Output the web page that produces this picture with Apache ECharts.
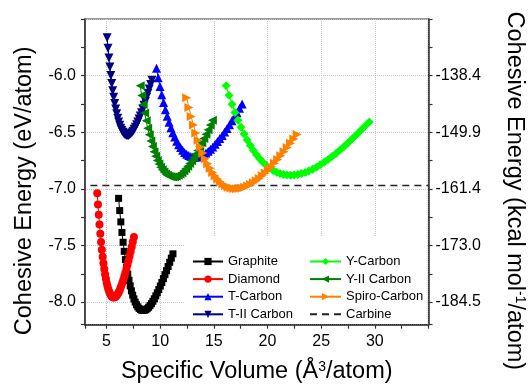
<!DOCTYPE html>
<html><head><meta charset="utf-8">
<script src="https://cdn.jsdelivr.net/npm/echarts@6/dist/echarts.min.js"></script>
<style>html,body{margin:0;padding:0;background:#fff}#c{width:528px;height:385px}</style>
</head><body><div id="c"></div>
<script>
const graphiteV=[6.131,6.234,6.338,6.443,6.549,6.656,6.765,6.874,6.985,7.097,7.211,7.325,7.441,7.558,7.676,7.795,7.915,8.037,8.160,8.284,8.410,8.537,8.665,8.794,8.925,9.057,9.190,9.324,9.460,9.597,9.736,9.875,10.016,10.159,10.303,10.448,10.594,10.742,10.891,11.042,11.194];
const graphiteE=[-7.084,-7.192,-7.292,-7.385,-7.472,-7.552,-7.625,-7.692,-7.753,-7.808,-7.857,-7.901,-7.939,-7.972,-8.000,-8.024,-8.042,-8.056,-8.066,-8.072,-8.074,-8.072,-8.067,-8.058,-8.046,-8.031,-8.014,-7.993,-7.971,-7.945,-7.918,-7.889,-7.859,-7.827,-7.793,-7.758,-7.723,-7.686,-7.649,-7.612,-7.574];
const diamondV=[4.141,4.210,4.280,4.351,4.423,4.495,4.569,4.643,4.718,4.793,4.870,4.947,5.025,5.104,5.184,5.265,5.346,5.428,5.511,5.595,5.680,5.766,5.852,5.939,6.028,6.117,6.207,6.298,6.389,6.482,6.575,6.670,6.765,6.861,6.958,7.056,7.155,7.255,7.356,7.457,7.560];
const diamondE=[-7.040,-7.138,-7.230,-7.316,-7.396,-7.470,-7.538,-7.600,-7.657,-7.708,-7.754,-7.795,-7.831,-7.863,-7.889,-7.912,-7.929,-7.943,-7.953,-7.958,-7.960,-7.958,-7.953,-7.944,-7.932,-7.918,-7.900,-7.879,-7.856,-7.830,-7.802,-7.772,-7.740,-7.706,-7.670,-7.632,-7.593,-7.553,-7.511,-7.468,-7.425];
const tCarbonV=[9.659,9.821,9.985,10.150,10.318,10.487,10.658,10.831,11.005,11.182,11.360,11.541,11.723,11.907,12.093,12.281,12.471,12.663,12.856,13.052,13.250,13.450,13.651,13.855,14.061,14.269,14.479,14.691,14.904,15.120,15.339,15.559,15.781,16.005,16.232,16.460,16.691,16.924,17.159,17.396,17.636];
const tCarbonE=[-5.935,-6.019,-6.097,-6.170,-6.238,-6.301,-6.359,-6.412,-6.460,-6.504,-6.543,-6.579,-6.610,-6.636,-6.659,-6.678,-6.694,-6.705,-6.714,-6.718,-6.720,-6.718,-6.714,-6.706,-6.696,-6.683,-6.668,-6.650,-6.630,-6.607,-6.583,-6.556,-6.528,-6.498,-6.467,-6.434,-6.399,-6.363,-6.327,-6.289,-6.250];
const tIIV=[5.059,5.144,5.230,5.316,5.404,5.493,5.582,5.673,5.764,5.857,5.950,6.045,6.140,6.237,6.334,6.432,6.532,6.632,6.734,6.836,6.940,7.045,7.150,7.257,7.365,7.474,7.584,7.695,7.807,7.920,8.034,8.149,8.266,8.383,8.502,8.622,8.742,8.864,8.988,9.112,9.237];
const tIIE=[-5.665,-5.758,-5.845,-5.925,-6.000,-6.070,-6.134,-6.192,-6.246,-6.294,-6.337,-6.376,-6.410,-6.439,-6.464,-6.485,-6.501,-6.514,-6.523,-6.528,-6.530,-6.528,-6.523,-6.515,-6.504,-6.491,-6.474,-6.455,-6.434,-6.410,-6.384,-6.356,-6.327,-6.295,-6.262,-6.228,-6.192,-6.156,-6.118,-6.079,-6.040];
const yCarbonV=[16.147,16.418,16.692,16.968,17.248,17.531,17.817,18.105,18.397,18.693,18.991,19.292,19.597,19.905,20.216,20.530,20.847,21.168,21.492,21.819,22.150,22.484,22.821,23.162,23.506,23.853,24.204,24.558,24.916,25.277,25.641,26.009,26.381,26.756,27.135,27.517,27.903,28.292,28.685,29.081,29.482];
const yCarbonE=[-6.089,-6.173,-6.252,-6.326,-6.394,-6.457,-6.515,-6.569,-6.618,-6.662,-6.702,-6.737,-6.768,-6.795,-6.818,-6.837,-6.853,-6.864,-6.873,-6.877,-6.879,-6.877,-6.873,-6.865,-6.855,-6.842,-6.827,-6.809,-6.788,-6.766,-6.742,-6.715,-6.687,-6.657,-6.625,-6.592,-6.558,-6.522,-6.485,-6.448,-6.409];
const yIIV=[8.143,8.279,8.417,8.557,8.698,8.841,8.985,9.130,9.278,9.426,9.577,9.729,9.883,10.038,10.195,10.353,10.513,10.675,10.838,11.003,11.170,11.338,11.508,11.680,11.854,12.029,12.206,12.384,12.565,12.747,12.931,13.116,13.304,13.493,13.684,13.876,14.071,14.267,14.465,14.665,14.867];
const yIIE=[-6.090,-6.175,-6.255,-6.330,-6.399,-6.464,-6.523,-6.577,-6.627,-6.672,-6.713,-6.749,-6.781,-6.809,-6.832,-6.852,-6.868,-6.880,-6.888,-6.893,-6.895,-6.893,-6.889,-6.881,-6.870,-6.857,-6.840,-6.822,-6.800,-6.777,-6.751,-6.723,-6.693,-6.661,-6.628,-6.592,-6.556,-6.517,-6.478,-6.437,-6.395];
const spiroV=[12.466,12.675,12.886,13.100,13.316,13.534,13.755,13.978,14.203,14.431,14.661,14.894,15.129,15.367,15.607,15.849,16.094,16.342,16.592,16.845,17.100,17.358,17.618,17.881,18.147,18.415,18.686,18.959,19.235,19.514,19.795,20.080,20.366,20.656,20.948,21.243,21.541,21.842,22.145,22.451,22.760];
const spiroE=[-6.195,-6.281,-6.361,-6.436,-6.506,-6.570,-6.630,-6.684,-6.734,-6.779,-6.819,-6.855,-6.887,-6.914,-6.938,-6.957,-6.973,-6.985,-6.993,-6.998,-7.000,-6.998,-6.994,-6.986,-6.976,-6.962,-6.947,-6.928,-6.908,-6.885,-6.860,-6.833,-6.804,-6.773,-6.741,-6.707,-6.672,-6.636,-6.598,-6.559,-6.520];
const carbineV=[3.5,35];
const carbineE=[-6.97,-6.97];

const xMajor=[5,10,15,20,25,30];
const xMinor=[7.5,12.5,17.5,22.5,27.5,32.5];
const yMajor=[-8,-7.5,-7,-6.5,-6];
const yMinor=[-7.75,-7.25,-6.75,-6.25,-5.75];
const yRightLabels=['-184.5','-173.0','-161.4','-149.9','-138.4'];

const FONT='Liberation Sans';
const zip=(a,b)=>a.map((v,i)=>[v,b[i]]);
function mk(name,V,E,color,symbol,size,rot){
  return {name,type:'line',data:zip(V,E),xAxisIndex:0,yAxisIndex:0,
    symbol,symbolSize:size,symbolRotate:rot||0,showSymbol:true,
    itemStyle:{color},lineStyle:{color,width:1},emphasis:{disabled:true}};
}
const series=[
  mk('Graphite',graphiteV,graphiteE,'#000000','rect',7),
  mk('Diamond',diamondV,diamondE,'#ff0000','circle',8),
  mk('T-Carbon',tCarbonV,tCarbonE,'#0000ff','triangle',9),
  mk('T-II Carbon',tIIV,tIIE,'#000080','triangle',9,180),
  mk('Y-Carbon',yCarbonV,yCarbonE,'#00ff00','diamond',9),
  mk('Y-II Carbon',yIIV,yIIE,'#008000','triangle',9,90),
  mk('Spiro-Carbon',spiroV,spiroE,'#ff8000','triangle',9,-90),
  {name:'Carbine',type:'line',data:zip(carbineV,carbineE),symbol:'none',
   itemStyle:{color:'#222',opacity:0},lineStyle:{color:'#222',width:1.5,type:[7,5]},z:1}
];
const axisCol='#333';
const supStyle={fontSize:14,verticalAlign:'top',color:'#000',fontFamily:FONT};
const chart=echarts.init(document.getElementById('c'),null,{renderer:'canvas'});
chart.setOption({
  animation:false,
  textStyle:{fontFamily:FONT},
  grid:{left:85,right:99.5,top:19,bottom:60.3,show:true,borderColor:axisCol,borderWidth:1.2,outerBoundsMode:'none'},
  xAxis:[
    {type:'value',min:3,max:35,position:'bottom',
     axisLine:{show:true,onZero:false,lineStyle:{color:axisCol,width:1.5}},
     axisTick:{show:true,inside:false,length:4,lineStyle:{color:axisCol,width:1.2}},
     axisLabel:{customValues:xMajor,margin:9,fontSize:16,color:'#000',fontFamily:FONT},
     splitLine:{show:true,lineStyle:{type:'dotted',color:'#c8c8c8',width:1}},
     name:'Specific Volume (Å{sup|3}/atom)',nameLocation:'middle',nameGap:35,
     nameTextStyle:{fontSize:23.5,color:'#000',fontFamily:FONT,rich:{sup:supStyle}}},
    {type:'value',min:3,max:35,position:'bottom',
     axisLine:{show:false,onZero:false},
     axisTick:{show:true,inside:false,length:4,customValues:xMinor,lineStyle:{color:axisCol,width:1.2}},
     axisLabel:{show:false},splitLine:{show:false}}
  ],
  yAxis:[
    {type:'value',min:-8.2,max:-5.5,position:'left',
     axisLine:{show:true,onZero:false,lineStyle:{color:axisCol,width:1.5}},
     axisTick:{show:true,inside:false,length:4,lineStyle:{color:axisCol,width:1.2}},
     axisLabel:{customValues:yMajor,margin:9,fontSize:16,color:'#000',fontFamily:FONT,
       formatter:v=>v.toFixed(1)},
     splitLine:{show:true,lineStyle:{type:'dotted',color:'#c8c8c8',width:1}},
     name:'Cohesive Energy (eV/atom)',nameLocation:'middle',nameGap:48,
     nameTextStyle:{fontSize:23.5,color:'#000',fontFamily:FONT,padding:[0,38,0,0]}},
    {type:'value',min:-8.2,max:-5.5,position:'right',
     axisLine:{show:true,onZero:false,lineStyle:{color:axisCol,width:1.5}},
     axisTick:{show:true,inside:false,length:4,lineStyle:{color:axisCol,width:1.2}},
     axisLabel:{customValues:yMajor,margin:7,fontSize:16,color:'#000',fontFamily:FONT,
       formatter:v=>{const i=yMajor.findIndex(m=>Math.abs(m-v)<1e-6);return i>=0?yRightLabels[i]:'';}},
     splitLine:{show:false},
     name:'Cohesive Energy (kcal mol{sup|-1}/atom)',nameLocation:'middle',nameGap:74,nameRotate:-90,
     nameTextStyle:{fontSize:23.5,color:'#000',fontFamily:FONT,padding:[0,0,0,38],rich:{sup:supStyle}}},
    {type:'value',min:-8.2,max:-5.5,position:'left',
     axisLine:{show:false,onZero:false},
     axisTick:{show:true,inside:false,length:4,customValues:yMinor,lineStyle:{color:axisCol,width:1.2}},
     axisLabel:{show:false},splitLine:{show:false}},
    {type:'value',min:-8.2,max:-5.5,position:'right',
     axisLine:{show:false,onZero:false},
     axisTick:{show:true,inside:false,length:4,customValues:yMinor,lineStyle:{color:axisCol,width:1.2}},
     axisLabel:{show:false},splitLine:{show:false}}
  ],
  graphic:[{type:'rect',shape:{x:184,y:237,width:243,height:87},style:{fill:'#fff'},z:1,silent:true}],
  legend:[
    {data:['Graphite','Diamond','T-Carbon','T-II Carbon'],orient:'vertical',left:192,top:255,
     itemWidth:30,itemHeight:9,itemGap:4.6,padding:0,textStyle:{fontSize:13,color:'#000',fontFamily:FONT}},
    {data:['Y-Carbon','Y-II Carbon','Spiro-Carbon','Carbine'],orient:'vertical',left:309,top:255,
     itemWidth:31,itemHeight:9,itemGap:4.6,padding:0,textStyle:{fontSize:13,color:'#000',fontFamily:FONT}}
  ],
  series
});
</script></body></html>
